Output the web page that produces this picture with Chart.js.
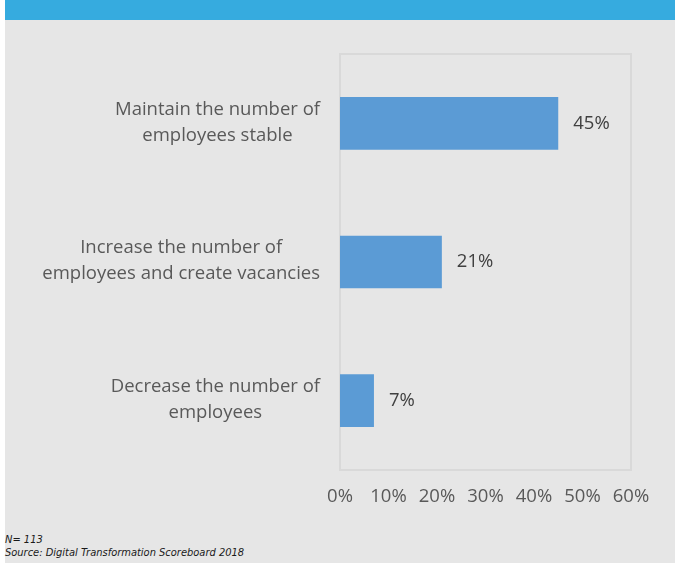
<!DOCTYPE html>
<html>
<head>
<meta charset="utf-8">
<script src="https://cdn.jsdelivr.net/npm/chart.js@4.4.1/dist/chart.umd.min.js"></script>
<style>
  body { margin: 0; background: #fff; }
  #page { position: relative; width: 675px; height: 563px; overflow: hidden; background: #fff; }
  #header { position: absolute; left: 5px; top: 0; width: 670px; height: 20px; background: #36abdf; }
  #panel { position: absolute; left: 5px; top: 20px; width: 670px; height: 543px; background: #e6e6e6; }
  #chartBox { position: absolute; left: 5px; top: 20px; width: 670px; height: 510px; }
  .note { position: absolute; left: 5px; font-family: 'Liberation Sans Narrow', 'DejaVu Sans Condensed', sans-serif;
          font-style: italic; font-size: 11px; color: #1a1a1a; white-space: nowrap; line-height: 14px; }
</style>
</head>
<body>
<div id="page">
  <div id="header"></div>
  <div id="panel"></div>
  <div id="chartBox"><canvas id="employeesChart"></canvas></div>
  <div class="note" style="top:533px;">N= 113</div>
  <div class="note" style="top:546px;">Source: Digital Transformation Scoreboard 2018</div>
</div>
<script>
// Survey answers, one bar per answer
const categories = [
  ['Maintain the number of', 'employees stable'],
  ['Increase the number of', 'employees and create vacancies'],
  ['Decrease the number of', 'employees']
];
const shares = [45, 21, 7];
const xTicks = [0, 10, 20, 30, 40, 50, 60];

const FONT = "'Open Sans', sans-serif";
Chart.defaults.font.family = FONT;
Chart.defaults.font.size = 18.5;
Chart.defaults.color = '#595959';

// Light frame around the plot area
const frame = {
  id: 'frame',
  beforeDatasetsDraw(chart) {
    const { ctx, chartArea: a } = chart;
    ctx.save();
    ctx.strokeStyle = '#d9d9d9';
    ctx.lineWidth = 2;
    ctx.strokeRect(a.left, a.top, a.right - a.left, a.bottom - a.top);
    ctx.restore();
  }
};

// Category text: lines centred on each other, block right-aligned next to the plot
const categoryText = {
  id: 'categoryText',
  afterDraw(chart) {
    const { ctx } = chart;
    const y = chart.scales.y;
    const rightEdge = chart.chartArea.left - 20;
    const lineGap = 26;
    ctx.save();
    ctx.font = '18.5px ' + FONT;
    ctx.fillStyle = '#595959';
    ctx.textAlign = 'center';
    ctx.textBaseline = 'middle';
    categories.forEach((lines, i) => {
      const widest = Math.max(...lines.map(l => ctx.measureText(l).width));
      const cx = rightEdge - widest / 2;
      const cy = y.getPixelForTick(i) - 1;
      lines.forEach((l, k) => {
        ctx.fillText(l, cx, cy + (k - (lines.length - 1) / 2) * lineGap);
      });
    });
    ctx.restore();
  }
};

// Percentage next to the end of each bar
const valueText = {
  id: 'valueText',
  afterDatasetsDraw(chart) {
    const { ctx } = chart;
    const meta = chart.getDatasetMeta(0);
    ctx.save();
    ctx.font = '18.5px ' + FONT;
    ctx.fillStyle = '#404040';
    ctx.textAlign = 'left';
    ctx.textBaseline = 'middle';
    meta.data.forEach((bar, i) => {
      ctx.fillText(shares[i] + '%', bar.x + 15, bar.y);
    });
    ctx.restore();
  }
};

const ctx = document.getElementById('employeesChart').getContext('2d');
const employeesChart = new Chart(ctx, {
  type: 'bar',
  data: {
    labels: categories,
    datasets: [{
      data: shares,
      backgroundColor: '#5b9bd5',
      borderWidth: 0,
      categoryPercentage: 1,
      barPercentage: 0.38
    }]
  },
  options: {
    indexAxis: 'y',
    responsive: true,
    maintainAspectRatio: false,
    animation: false,
    layout: { padding: { top: 34, right: 44, left: 0, bottom: 0 } },
    plugins: {
      legend: { display: false },
      tooltip: { enabled: false }
    },
    scales: {
      x: {
        min: xTicks[0],
        max: xTicks[xTicks.length - 1],
        grid: { display: false, drawTicks: false },
        border: { display: false },
        afterBuildTicks: scale => { scale.ticks = xTicks.map(v => ({ value: v })); },
        afterFit: scale => { scale.height = 60; },
        ticks: {
          padding: 16,
          color: '#595959',
          callback: v => v + '%'
        }
      },
      y: {
        grid: { display: false, drawTicks: false },
        border: { display: false },
        ticks: { display: false },
        afterFit: scale => { scale.width = 335; }
      }
    }
  },
  plugins: [frame, categoryText, valueText]
});
</script>
</body>
</html>
